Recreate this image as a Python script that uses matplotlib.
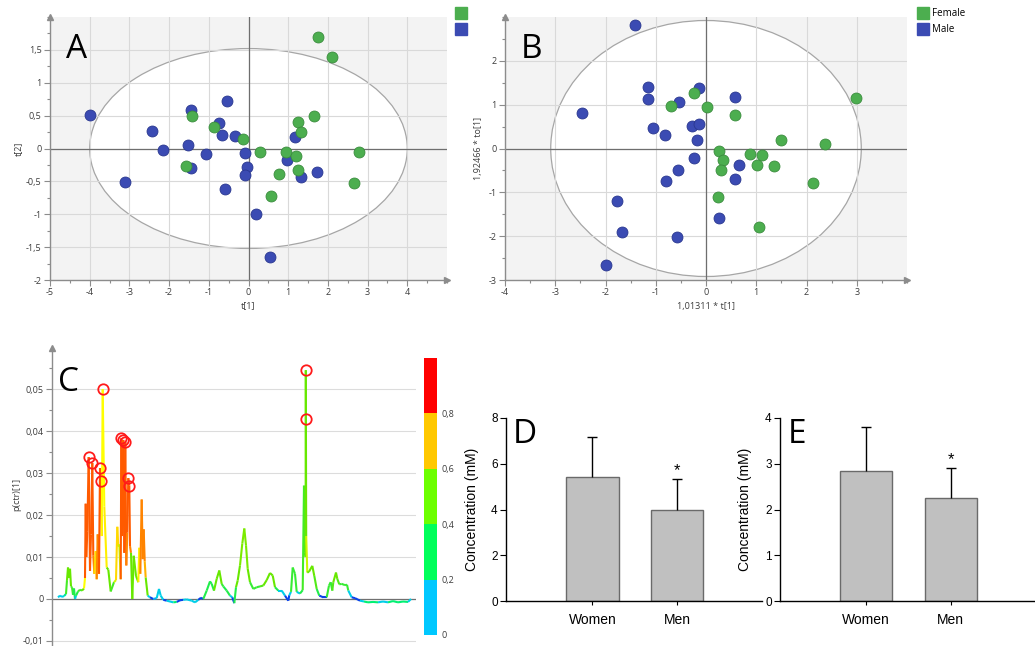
import numpy as np
import matplotlib
matplotlib.use('Agg')
import matplotlib.pyplot as plt
from matplotlib.patches import Ellipse
from matplotlib.lines import Line2D
from matplotlib.collections import LineCollection
from matplotlib.colors import LinearSegmentedColormap, ListedColormap, BoundaryNorm, Normalize
from matplotlib.cm import ScalarMappable
from matplotlib.ticker import FixedLocator, MultipleLocator, FuncFormatter, NullLocator

plt.rcParams['font.family'] = ['Liberation Sans', 'DejaVu Sans']
SIMCA_FONT = 'Open Sans'

# ---- panel A: PCA scores t[1] / t[2]
a_female_t1 = [1.76, 2.11, -1.43, -0.86, -0.14, 0.28, 0.95, 1.19, 1.25, 1.31, 1.64, 2.78, 2.67, 1.25, 0.76, 0.57, -1.57]
a_female_t2 = [1.70, 1.39, 0.49, 0.33, 0.15, -0.06, -0.05, -0.12, 0.41, 0.25, 0.49, -0.06, -0.52, -0.32, -0.39, -0.73, -0.27]
a_male_t1 = [-3.99, -3.12, -2.42, -2.16, -1.53, -1.45, -1.45, -1.08, -0.74, -0.66, -0.55, -0.34, -0.60, -0.08, -0.03,
             -0.08, 0.18, 0.55, 1.18, 0.97, 1.31, 1.72]
a_male_t2 = [0.51, -0.51, 0.26, -0.03, 0.06, 0.58, -0.30, -0.09, 0.39, 0.20, 0.73, 0.19, -0.62, -0.07, -0.28,
             -0.40, -1.00, -1.65, 0.17, -0.17, -0.44, -0.36]
a_ellipse = (4.0, 1.52)

# ---- panel B: OPLS-DA scores
b_female_t = [-0.24, -0.70, 0.02, 0.58, 2.98, 1.50, 2.36, 0.25, 0.34, 0.29, 0.88, 1.11, 1.01, 1.35, 2.12, 0.24, 1.05]
b_female_to = [1.27, 0.97, 0.95, 0.76, 1.15, 0.19, 0.11, -0.05, -0.26, -0.50, -0.12, -0.14, -0.38, -0.39, -0.79, -1.10, -1.80]
b_male_t = [-1.42, -2.47, -1.16, -1.16, -0.54, -0.14, 0.57, -1.05, -0.82, -0.27, -0.14, -0.18, -0.23, -0.55, -0.79,
            0.66, 0.58, -1.78, -1.68, -0.58, 0.25, -2.00]
b_male_to = [2.81, 0.80, 1.40, 1.13, 1.05, 1.38, 1.18, 0.46, 0.31, 0.52, 0.56, 0.19, -0.21, -0.49, -0.74,
             -0.37, -0.70, -1.20, -1.91, -2.02, -1.59, -2.65]
b_ellipse = (3.09, 2.92)
groups_legend = ['Female', 'Male']

# ---- panel C: loading line p(ctr)[1] coloured by correlation
var_index = [0, 2, 4, 6, 8, 9, 10, 11, 12, 13, 14, 15, 16, 17, 18, 20, 22, 24, 26, 27,
             27.7, 28.3, 29.3, 30.7, 32.0, 33.0, 34.3, 35.3, 36.3, 37.7, 38.7, 39.7, 41.0, 42.0, 42.7, 43.7, 44.7,
             46.3, 48.7, 50.3, 52.7, 56.0, 58.0,
             59.3, 60.3, 61.3, 62.7, 63.3, 64.0, 65.3, 66.3, 67.3, 68.3, 69.3, 70.3, 71.3, 72.0, 73.0, 74.3, 75.7,
             78.0, 80.3, 81.3, 82.3, 83.7, 84.7, 85.7, 86.7, 87.7, 89.7,
             92.0, 95.3, 98.7, 101.0, 102.7, 105.3, 108.7, 115.3, 118.7, 122.0, 125.3, 128.7, 133.7, 137.0, 140.3,
             143.0, 145.3, 148.7, 152.0, 153.7, 156.0, 158.7, 161.3, 163.7, 165.3, 168.7, 172.0, 174.3, 176.3, 178.0,
             179.7, 182.0, 184.3, 186.3, 188.0, 189.7, 192.0, 195.3, 198.7, 202.0, 205.3, 208.7, 212.0, 214.7, 217.0,
             220.3, 223.7, 227.0, 230.3, 231.3, 233.0, 234.7, 237.0, 238.7, 242.0, 244.7,
             246.0, 246.7, 247.6, 247.8, 248.2, 249.3, 251.0, 254.3, 256.3, 258.7, 261.3, 265.3, 268.7, 271.0, 272.7,
             274.3, 275.3, 278.0, 279.3, 281.3, 283.7, 287.0, 289.0, 290.3, 293.7, 297.0, 302.0, 306.0, 310.0, 315.0,
             320.0, 325.0, 330.0, 335.0, 340.0, 345.0, 350.0, 353.0]
p_ctr = [0.0004, 0.0008, 0.0005, 0.0007, 0.0012, 0.0045, 0.0075, 0.0050, 0.0072, 0.0030, 0.0028, 0.0010, 0.0025,
         0.0000, 0.0008, 0.0018, 0.0022, 0.0020, 0.0025, 0.0050,
         0.0227, 0.0100, 0.0160, 0.0338, 0.0067, 0.0154, 0.0324, 0.0103, 0.0060, 0.0114, 0.0047, 0.0154, 0.0060,
         0.0312, 0.0280, 0.0150, 0.0500, 0.0220, 0.0075, 0.0070, 0.0018, 0.0040, 0.0045,
         0.0172, 0.0125, 0.0130, 0.0047, 0.0383, 0.0150, 0.0379, 0.0110, 0.0374, 0.0080, 0.0158, 0.0288, 0.0270,
         0.0126, 0.0110, 0.0000, 0.0103, 0.0055, 0.0040, 0.0122, 0.0060, 0.0237, 0.0095, 0.0166, 0.0090, 0.0051,
         0.0008,
         0.0004, 0.0000, 0.0002, 0.0024, 0.0008, -0.0002, -0.0004, -0.0008, -0.0007, -0.0003, -0.0002, -0.0001,
         -0.0004, -0.0008, -0.0002, 0.0003, 0.0000, 0.0020, 0.0042, 0.0036, 0.0020, 0.0048, 0.0068, 0.0036, 0.0030,
         0.0020, 0.0008, 0.0004, -0.0010, 0.0028, 0.0044, 0.0080, 0.0132, 0.0168, 0.0128, 0.0072, 0.0040, 0.0024,
         0.0028, 0.0030, 0.0032, 0.0045, 0.0062, 0.0056, 0.0028, 0.0020, 0.0020, 0.0008, -0.0004, 0.0009, 0.0017,
         0.0075, 0.0060, 0.0017, 0.0013, 0.0021,
         0.0270, 0.0110, 0.0100, 0.0545, 0.0150, 0.0063, 0.0065, 0.0079, 0.0055, 0.0024, 0.0008, 0.0004, 0.0004,
         0.0032, 0.0040, 0.0020, 0.0040, 0.0063, 0.0048, 0.0035, 0.0036, 0.0033, 0.0034, 0.0020, 0.0004, 0.0002,
         -0.0004, -0.0006, -0.0008, -0.0007, -0.0008, -0.0006, -0.0008, -0.0005, -0.0008, -0.0006, -0.0007, 0.0000]
corr = [0.15, 0.15, 0.02, 0.15, 0.25, 0.40, 0.45, 0.45, 0.45, 0.40, 0.40, 0.30, 0.35, 0.02, 0.15, 0.35, 0.40, 0.40,
        0.45, 0.60,
        0.80, 0.75, 0.80, 0.80, 0.72, 0.80, 0.80, 0.75, 0.65, 0.65, 0.75, 0.75, 0.75, 0.80, 0.80, 0.60, 0.60, 0.62,
        0.45, 0.45, 0.40, 0.40, 0.55,
        0.65, 0.62, 0.55, 0.75, 0.80, 0.80, 0.80, 0.78, 0.80, 0.75, 0.75, 0.80, 0.80, 0.75, 0.45, 0.40, 0.45, 0.45,
        0.45, 0.62, 0.65, 0.75, 0.72, 0.75, 0.70, 0.45, 0.15,
        0.02, 0.02, 0.10, 0.15, 0.15, 0.02, 0.15, 0.15, 0.30, 0.02, 0.02, 0.15, 0.15, 0.15, 0.15, 0.02, 0.02, 0.35,
        0.35, 0.35, 0.40, 0.45, 0.45, 0.38, 0.35, 0.35, 0.15, 0.02, 0.35, 0.35, 0.45, 0.45, 0.47, 0.47, 0.47, 0.45,
        0.38, 0.38, 0.38, 0.38, 0.42, 0.45, 0.45, 0.45, 0.35, 0.15, 0.15, 0.02, 0.02, 0.02, 0.15, 0.38, 0.38, 0.15,
        0.15, 0.35,
        0.40, 0.40, 0.45, 0.45, 0.55, 0.45, 0.45, 0.45, 0.42, 0.35, 0.02, 0.02, 0.02, 0.38, 0.38, 0.35, 0.42, 0.45,
        0.42, 0.42, 0.38, 0.38, 0.38, 0.15, 0.02, 0.02, 0.15, 0.30, 0.15, 0.30, 0.35, 0.15, 0.35, 0.30, 0.15, 0.30,
        0.15, 0.15]
marked_index = [30.7, 34.3, 42.0, 42.7, 44.7, 63.3, 65.3, 67.3, 70.3, 71.3, 247.8, 247.7]
marked_p = [0.0338, 0.0324, 0.0312, 0.0280, 0.0500, 0.0383, 0.0379, 0.0374, 0.0288, 0.0270, 0.0545, 0.0428]
cbar_bounds = [0.0, 0.2, 0.4, 0.6, 0.8, 1.0]
cbar_colors = ['#00c8ff', '#00ff5a', '#6cff00', '#ffc800', '#ff0000']
cbar_ticks = [0.0, 0.2, 0.4, 0.6, 0.8]

# ---- panels D / E: concentrations
bar_groups = ['Women', 'Men']
d_mean = [5.43, 4.00]
d_err = [1.75, 1.35]
e_mean = [2.85, 2.26]
e_err = [0.96, 0.65]

GREEN, GREEN_EDGE = '#4cae4f', '#3a8c3d'
BLUE, BLUE_EDGE = '#3b4bb3', '#29378f'
AXIS_GREY = '#8c8c8c'

W, H = 1035, 646
fig = plt.figure(figsize=(W / 100, H / 100), dpi=100)


def px_box(left, top, right, bottom):
    return [left / W, 1 - bottom / H, (right - left) / W, (bottom - top) / H]


comma = FuncFormatter(lambda v, _: ('%g' % round(v, 4)).replace('.', ','))


def simca_frame(ax):
    for s in ['top', 'right']:
        ax.spines[s].set_visible(False)
    for s in ['left', 'bottom']:
        ax.spines[s].set_color(AXIS_GREY)
        ax.spines[s].set_linewidth(1)
    ax.tick_params(which='both', direction='out', colors=AXIS_GREY, labelcolor='#3c3c3c',
                   labelsize=6.5, width=0.8, labelfontfamily=SIMCA_FONT, pad=2)
    ax.tick_params(which='major', length=4)
    ax.tick_params(which='minor', length=2.5)
    ax.plot([0], [1], marker='^', ms=5, color=AXIS_GREY, transform=ax.transAxes, clip_on=False, zorder=6)


def score_plot(ax, xlim, ylim, ell, fem_x, fem_y, male_x, male_y, xmaj, ymaj, ymin_step, xlabel, ylabel,
               ylab_x, xlab_y):
    ax.set_xlim(*xlim)
    ax.set_ylim(*ylim)
    ax.set_facecolor('#f3f3f3')
    ax.add_patch(Ellipse((0, 0), 2 * ell[0], 2 * ell[1], facecolor='white', edgecolor='#a6a6a6',
                         lw=0.9, zorder=0.3))
    ax.set_axisbelow(True)
    ax.xaxis.set_major_locator(FixedLocator(xmaj))
    ax.xaxis.set_minor_locator(MultipleLocator(0.5))
    ax.yaxis.set_major_locator(FixedLocator(ymaj))
    ax.yaxis.set_minor_locator(MultipleLocator(ymin_step))
    ax.xaxis.set_major_formatter(comma)
    ax.yaxis.set_major_formatter(comma)
    ax.grid(True, which='major', color='#d9d9d9', lw=0.8)
    ax.axhline(0, color='#6e6e6e', lw=0.9, zorder=1)
    ax.axvline(0, color='#6e6e6e', lw=0.9, zorder=1)
    simca_frame(ax)
    ax.plot([1], [0], marker='>', ms=5, color=AXIS_GREY, transform=ax.transAxes, clip_on=False, zorder=6)
    ax.scatter(male_x, male_y, s=62, c=BLUE, edgecolors=BLUE_EDGE, linewidths=0.6, zorder=3)
    ax.scatter(fem_x, fem_y, s=62, c=GREEN, edgecolors=GREEN_EDGE, linewidths=0.6, zorder=3)
    ax.set_xlabel(xlabel, fontsize=6.5, family=SIMCA_FONT, color='#3c3c3c')
    ax.set_ylabel(ylabel, fontsize=6.5, family=SIMCA_FONT, color='#3c3c3c')
    ax.yaxis.set_label_coords(ylab_x, 0.5)
    ax.xaxis.set_label_coords(0.5, xlab_y)


# Panel A
axa = fig.add_axes(px_box(50, 17, 447, 280))
score_plot(axa, (-5, 5), (-2, 2), a_ellipse, a_female_t1, a_female_t2, a_male_t1, a_male_t2,
           np.arange(-5, 5), np.arange(-2, 1.51, 0.5), 0.25, 't[1]', 't[2]', -0.069, -0.08)

# Panel B
axb = fig.add_axes(px_box(505, 17, 907, 280))
score_plot(axb, (-4, 4), (-3, 3), b_ellipse, b_female_t, b_female_to, b_male_t, b_male_to,
           np.arange(-4, 4), np.arange(-3, 3), 0.5, '1,01311 * t[1]', '1,92466 * to[1]', -0.055, -0.084)

handles = [Line2D([], [], ls='', marker='s', ms=9.2, mfc=GREEN, mec=GREEN),
           Line2D([], [], ls='', marker='s', ms=9.2, mfc=BLUE, mec=BLUE)]
fig.legend(handles, ['', ''], loc='upper left', bbox_to_anchor=(457 / W, 1 - 8 / H), frameon=False,
           handlelength=0.8, handletextpad=0.2, borderpad=0, borderaxespad=0, labelspacing=0.55,
           prop={'family': SIMCA_FONT, 'size': 7})
fig.legend(handles, groups_legend, loc='upper left', bbox_to_anchor=(919 / W, 1 - 8 / H), frameon=False,
           handlelength=0.8, handletextpad=0.5, borderpad=0, borderaxespad=0, labelspacing=0.55,
           prop={'family': SIMCA_FONT, 'size': 7})

# Panel C
axc = fig.add_axes(px_box(52, 348, 416, 646))
axc.set_xlim(-6, 358)
axc.set_ylim(-0.0112, 0.0598)
axc.set_facecolor('white')
simca_frame(axc)
axc.spines['bottom'].set_visible(False)
axc.xaxis.set_major_locator(NullLocator())
axc.yaxis.set_major_locator(FixedLocator(np.arange(-0.01, 0.051, 0.01)))
axc.yaxis.set_minor_locator(MultipleLocator(0.005))
axc.yaxis.set_major_formatter(comma)
axc.set_axisbelow(True)
axc.grid(True, axis='y', which='major', color='#dcdcdc', lw=0.8)
axc.axhline(0, color='#707070', lw=0.9, zorder=1)

line_cmap = LinearSegmentedColormap.from_list('corr', [(0.0, '#0a28e6'), (0.12, '#00c8ff'), (0.3, '#00f070'),
                                                       (0.45, '#66e800'), (0.6, '#ffff00'), (0.7, '#ffb400'),
                                                       (0.8, '#ff5a00'), (1.0, '#ff0000')])
xv = np.array(var_index, dtype=float)
pv = np.array(p_ctr)
cv = np.array(corr)
pts = np.column_stack([xv, pv])
segs = np.stack([pts[:-1], pts[1:]], axis=1)
seg_c = np.where(pv[:-1] > pv[1:], cv[:-1], cv[1:])
lc = LineCollection(segs, cmap=line_cmap, norm=Normalize(0, 1), linewidths=1.5, zorder=3)
lc.set_array(seg_c)
axc.add_collection(lc)
axc.plot(marked_index, marked_p, ls='', marker='o', ms=7.5, mfc='none', mec='#ff1a1a', mew=1.3, zorder=4)
axc.set_ylabel('p(ctr)[1]', fontsize=6.5, family=SIMCA_FONT, color='#3c3c3c')
axc.yaxis.set_label_coords(-0.084, 0.507)

cax = fig.add_axes(px_box(424, 358, 437, 635))
bar_cmap = ListedColormap(cbar_colors)
cb = fig.colorbar(ScalarMappable(norm=BoundaryNorm(cbar_bounds, bar_cmap.N), cmap=bar_cmap), cax=cax,
                  ticks=cbar_ticks)
cb.outline.set_visible(False)
cb.ax.minorticks_off()
cb.ax.tick_params(which='both', length=0, labelsize=6.5, pad=3, labelcolor='#3c3c3c',
                  labelfontfamily=SIMCA_FONT)
cb.ax.yaxis.set_major_formatter(comma)


# Panels D and E
def bar_panel(rect, means, errs, ymax, ystep):
    ax = fig.add_axes(rect)
    x = np.arange(len(bar_groups))
    ax.bar(x, means, width=0.615, color='#c0c0c0', edgecolor='#6a6a6a', linewidth=1, zorder=2)
    eb = ax.errorbar(x, means, yerr=[np.zeros(len(errs)), errs], fmt='none', ecolor='black',
                     elinewidth=1, capsize=3.5, capthick=1, zorder=3)
    eb[1][0].set_visible(False)
    top = np.array(means) + np.array(errs)
    ax.annotate('*', xy=(x[1], top[1]), xytext=(0, 0.5), textcoords='offset points', ha='center',
                va='bottom', fontsize=12)
    ax.set_xlim(-1.02, 2.0)
    ax.set_ylim(0, ymax)
    ax.set_yticks(np.arange(0, ymax + 0.01, ystep))
    ax.set_xticks(x)
    ax.set_xticklabels(bar_groups, fontsize=10)
    for s in ['top', 'right']:
        ax.spines[s].set_visible(False)
    for s in ['left', 'bottom']:
        ax.spines[s].set_linewidth(1)
    ax.spines['left'].set_bounds(0, ymax)
    ax.tick_params(axis='y', direction='out', length=4, labelsize=8.5, pad=2)
    ax.tick_params(axis='x', direction='out', length=3, pad=6)
    ax.set_ylabel('Concentration (mM)', fontsize=10)
    return ax


axd = bar_panel(px_box(506, 418, 762, 601), d_mean, d_err, 8, 2)
axd.yaxis.set_label_coords((479 - 506) / 256, 0.5)
axe = bar_panel(px_box(780, 418, 1035, 601), e_mean, e_err, 4, 1)
axe.yaxis.set_label_coords((752 - 780) / 255, 0.5)

for letter, lx, ly in [('A', 66, 58), ('B', 521, 58), ('C', 58, 391), ('D', 513, 443), ('E', 788, 443)]:
    fig.text(lx / W, 1 - ly / H, letter, fontsize=24, family=SIMCA_FONT, va='baseline', ha='left')

fig.savefig('out.png', dpi=100)
